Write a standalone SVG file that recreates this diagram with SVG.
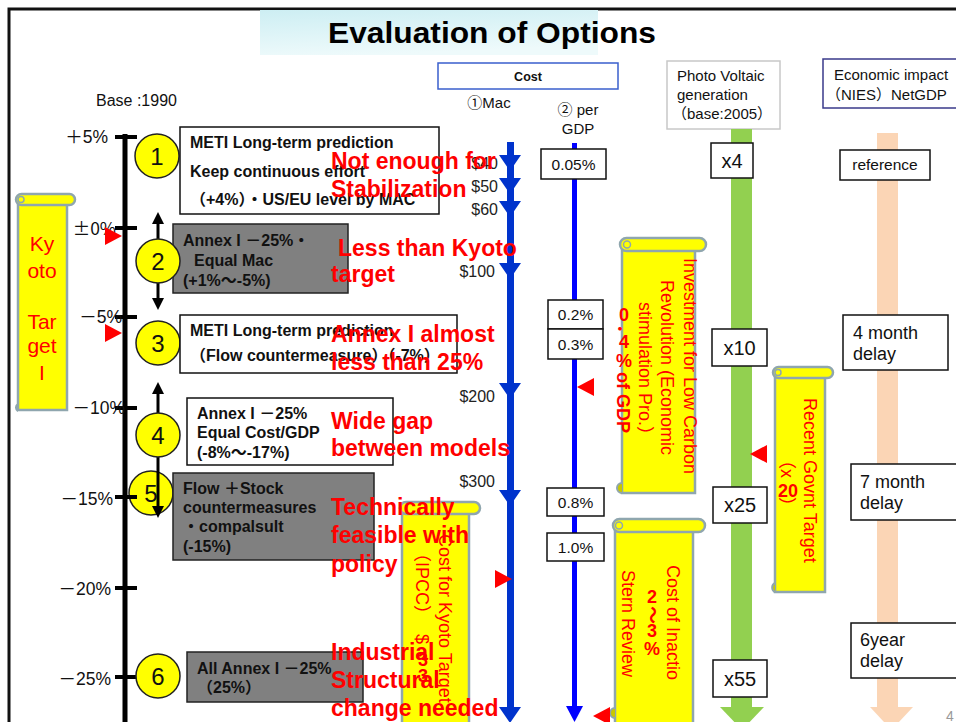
<svg xmlns="http://www.w3.org/2000/svg" width="956" height="722" viewBox="0 0 956 722">
<defs>
<linearGradient id="tg" x1="0" y1="0" x2="0.3" y2="1">
<stop offset="0" stop-color="#cdeef3"/>
<stop offset="1" stop-color="#eefafb"/>
</linearGradient>
<marker id="ah" viewBox="0 0 12 12" refX="2" refY="6" markerWidth="12" markerHeight="12" markerUnits="userSpaceOnUse" orient="auto-start-reverse">
<path d="M0,0 L12,6 L0,12 z" fill="#000"/>
</marker>
<path id="mt" d="M-11,0 L11,0 L0,16 Z" fill="#0033cc"/>
<path id="rtR" d="M0,-9 L17,0 L0,9 Z" fill="#ff0000"/>
<path id="rtL" d="M0,-9 L-17,0 L0,9 Z" fill="#ff0000"/>
</defs>
<style>
text{font-family:"Liberation Sans","Noto Sans CJK JP",sans-serif}
.nb{font-weight:bold;font-size:16px;fill:#111}
.rd{font-weight:bold;font-size:23px;fill:#ff0000}
.ax{font-size:17.5px;fill:#111;text-anchor:end}
.dl{font-size:16px;fill:#222;text-anchor:end}
.hd{font-size:15px;fill:#111}
.vb{fill:#fff;stroke:#111;stroke-width:1.5}
.vt{font-size:15.5px;fill:#111;text-anchor:middle}
.vx{font-size:20px;fill:#111;text-anchor:middle}
.dt{font-size:18px;fill:#111}
.cir{fill:#ffff00;stroke:#222;stroke-width:1.5}
.cn{font-size:24px;fill:#111;text-anchor:middle}
.wb{fill:#fff;stroke:#111;stroke-width:1.5}
.gb{fill:#808080;stroke:#222;stroke-width:1.5}
.sc{fill:#ffff00;stroke:#8fa6ae;stroke-width:2.5}
.st{font-size:18px;fill:#ff0000}
.sb{font-size:18px;font-weight:bold;fill:#ff0000;text-anchor:middle}
</style>
<rect width="956" height="722" fill="#fff"/>
<path d="M9,722 L9,9 L956,9" fill="none" stroke="#111" stroke-width="3"/>
<rect x="260" y="10" width="338" height="45" fill="url(#tg)"/>
<text x="328" y="43" font-size="30" font-weight="bold" fill="#000" textLength="328" lengthAdjust="spacingAndGlyphs">Evaluation of Options</text>
<text x="96" y="106" font-size="16" fill="#111">Base :1990</text>

<g id="hdr-cost">
<rect x="438" y="63" width="180" height="26" fill="#fff" stroke="#3a5fcd" stroke-width="1.5"/>
<text x="528" y="81" font-size="12.5" font-weight="bold" text-anchor="middle" fill="#111">Cost</text>
<text x="489" y="108" class="hd" text-anchor="middle">①Mac</text>
<text x="578" y="115" class="hd" text-anchor="middle">② per</text>
<text x="578" y="134" class="hd" text-anchor="middle">GDP</text>
</g>
<g id="hdr-pv">
<rect x="667" y="61" width="113" height="68" fill="#fff" stroke="#c8c8c8" stroke-width="1.5"/>
<text x="677" y="81" class="hd">Photo Voltaic</text>
<text x="677" y="100" class="hd">generation</text>
<text x="672" y="119" class="hd">（base:2005）</text>
</g>
<g id="hdr-eco">
<rect x="823" y="59" width="140" height="49" fill="#fff" stroke="#3a3a8a" stroke-width="1.5"/>
<text x="834" y="80" class="hd">Economic impact</text>
<text x="826" y="100" class="hd">（NIES）NetGDP</text>
</g>

<g id="kyoto-scroll">
<rect x="18" y="199" width="49" height="211" class="sc"/>
<rect x="16" y="194" width="59" height="11" rx="5.5" class="sc"/>
<circle cx="21" cy="199.5" r="3" fill="none" stroke="#8fa6ae" stroke-width="1.5"/>
<path d="M18,404 a4,4 0 0,0 0,7" fill="none" stroke="#8fa6ae" stroke-width="2"/>
<text x="42" y="251" font-size="21" fill="#ff0000" text-anchor="middle">Ky</text>
<text x="42" y="278" font-size="21" fill="#ff0000" text-anchor="middle">oto</text>
<text x="42" y="329" font-size="21" fill="#ff0000" text-anchor="middle">Tar</text>
<text x="42" y="353" font-size="21" fill="#ff0000" text-anchor="middle">get</text>
<text x="42" y="380" font-size="21" fill="#ff0000" text-anchor="middle">I</text>
</g>

<g id="n5">
<circle cx="151" cy="493" r="22" class="cir"/>
<text x="151" y="502" class="cn">5</text>
</g>

<g id="connectors">
<rect x="731" y="129" width="21" height="579" fill="#92d050"/>
<polygon points="720,707 764,707 742,730" fill="#92d050"/>
<rect x="877" y="133" width="21" height="575" fill="#fbd5b5"/>
<polygon points="870,707 913,707 891.5,730" fill="#fbd5b5"/>
<rect x="507" y="142" width="7" height="570" fill="#0033cc"/>
<use href="#mt" x="510" y="155"/>
<use href="#mt" x="510" y="178"/>
<use href="#mt" x="510" y="201"/>
<use href="#mt" x="510" y="263"/>
<use href="#mt" x="510" y="383"/>
<use href="#mt" x="510" y="490"/>
<use href="#mt" x="510" y="707"/>
<rect x="572" y="143" width="5" height="570" fill="#0000ff"/>
<polygon points="566,706 583,706 574.5,722" fill="#0000ff"/>
<line x1="125" y1="134" x2="125" y2="722" stroke="#000" stroke-width="5"/>
<g stroke="#000" stroke-width="4">
<line x1="115" y1="137" x2="137" y2="137"/>
<line x1="115" y1="228" x2="137" y2="228"/>
<line x1="115" y1="317" x2="137" y2="317"/>
<line x1="115" y1="408" x2="137" y2="408"/>
<line x1="115" y1="497" x2="137" y2="497"/>
<line x1="115" y1="588" x2="137" y2="588"/>
<line x1="115" y1="677" x2="137" y2="677"/>
</g>
<line x1="158" y1="222" x2="158" y2="300" stroke="#000" stroke-width="3" marker-start="url(#ah)" marker-end="url(#ah)"/>
<line x1="158" y1="392" x2="158" y2="508" stroke="#000" stroke-width="3" marker-start="url(#ah)" marker-end="url(#ah)"/>
</g>

<g id="axis-labels">
<text x="108" y="143" class="ax">＋5%</text>
<text x="116" y="235" class="ax" style="font-family:'Noto Sans CJK JP','Liberation Sans',sans-serif">±0%</text>
<text x="122" y="323" class="ax">－5%</text>
<text x="125" y="414" class="ax">－10%</text>
<text x="113" y="505" class="ax">－15%</text>
<text x="111" y="595" class="ax">－20%</text>
<text x="111" y="685" class="ax">－25%</text>
</g>

<g id="n1">
<circle cx="157" cy="156" r="22" class="cir"/>
<text x="157" y="165" class="cn">1</text>
<rect x="180" y="127" width="259" height="87" class="wb"/>
<text x="190" y="148" class="nb">METI Long-term prediction</text>
<text x="190" y="177" class="nb">Keep continuous effort</text>
<text x="190" y="205" class="nb">（+4%）・US/EU level by MAC</text>
</g>
<g id="n2">
<rect x="173" y="224" width="175" height="69" class="gb"/>
<circle cx="158" cy="261" r="22" class="cir"/>
<text x="158" y="270" class="cn">2</text>
<text x="183" y="246" class="nb">Annex I －25%・</text>
<text x="194" y="266" class="nb">Equal Mac</text>
<text x="183" y="286" class="nb">(+1%～-5%)</text>
</g>
<g id="n3">
<circle cx="158" cy="343" r="22" class="cir"/>
<text x="158" y="352" class="cn">3</text>
<rect x="180" y="315" width="277" height="58" class="wb"/>
<text x="190" y="336" class="nb">METI Long-term prediction</text>
<text x="190" y="361" class="nb">（Flow countermeasure）（-7%）</text>
</g>
<g id="n4">
<circle cx="158" cy="435" r="22" class="cir"/>
<text x="158" y="444" class="cn">4</text>
<rect x="187" y="398" width="206" height="67" class="wb"/>
<text x="197" y="419" class="nb">Annex I －25%</text>
<text x="197" y="438" class="nb">Equal Cost/GDP</text>
<text x="197" y="458" class="nb">(-8%～-17%)</text>
</g>
<g id="n5-box">
<rect x="173" y="473" width="201" height="87" class="gb"/>
<text x="183" y="494" class="nb">Flow ＋Stock</text>
<text x="183" y="513" class="nb">countermeasures</text>
<text x="183" y="532" class="nb">・compalsult</text>
<text x="183" y="552" class="nb">(-15%)</text>
</g>
<g id="n6">
<circle cx="158" cy="676" r="22" class="cir"/>
<text x="158" y="685" class="cn">6</text>
<rect x="187" y="652" width="176" height="50" class="gb"/>
<text x="197" y="674" class="nb">All Annex I －25%</text>
<text x="197" y="693" class="nb">（25%）</text>
</g>

<g id="mac-labels">
<text x="498" y="169" class="dl">$40</text>
<text x="498" y="192" class="dl">$50</text>
<text x="498" y="215" class="dl">$60</text>
<text x="495" y="277" class="dl">$100</text>
<text x="495" y="402" class="dl">$200</text>
<text x="495" y="487" class="dl">$300</text>
</g>

<g id="gdp-values">
<rect x="541" y="149" width="65" height="30" class="vb"/><text x="573.5" y="170" class="vt">0.05%</text>
<rect x="548" y="300" width="55" height="29" class="vb"/><text x="575.5" y="320" class="vt">0.2%</text>
<rect x="548" y="329" width="55" height="30" class="vb"/><text x="575.5" y="350" class="vt">0.3%</text>
<rect x="547" y="488" width="57" height="28" class="vb"/><text x="575.5" y="508" class="vt">0.8%</text>
<rect x="547" y="533" width="57" height="28" class="vb"/><text x="575.5" y="553" class="vt">1.0%</text>
</g>
<g id="pv-values">
<rect x="711" y="143" width="42" height="35" class="vb"/><text x="732" y="168" class="vx">x4</text>
<rect x="712" y="329" width="55" height="37" class="vb"/><text x="739.5" y="355" class="vx">x10</text>
<rect x="713" y="487" width="54" height="36" class="vb"/><text x="740" y="512" class="vx">x25</text>
<rect x="713" y="660" width="54" height="37" class="vb"/><text x="740" y="686" class="vx">x55</text>
</g>
<g id="eco-values">
<rect x="840" y="150" width="90" height="30" class="vb"/><text x="885" y="170" class="vt">reference</text>
<rect x="843" y="315" width="105" height="55" class="vb"/>
<text x="853" y="339" class="dt">4 month</text><text x="853" y="360" class="dt">delay</text>
<rect x="851" y="464" width="106" height="56" class="vb"/>
<text x="860" y="488" class="dt">7 month</text><text x="860" y="509" class="dt">delay</text>
<rect x="851" y="623" width="106" height="55" class="vb"/>
<text x="860" y="646" class="dt">6year</text><text x="860" y="667" class="dt">delay</text>
</g>
<text x="946" y="721" font-size="14" fill="#999">4</text>

<g id="invest-scroll">
<rect x="622" y="244" width="73" height="249" class="sc"/>
<rect x="620" y="238" width="86" height="13" rx="6.5" class="sc"/>
<circle cx="627" cy="244.5" r="3.5" fill="none" stroke="#8fa6ae" stroke-width="1.5"/>
<path d="M622,483 a5,5 0 0,0 0,10" fill="#c8c800" stroke="#8fa6ae" stroke-width="2"/>
<text x="684" y="258" class="st" transform="rotate(90 684 258)">Investment for Low Carbon</text>
<text x="661" y="280" class="st" transform="rotate(90 661 280)">Revolution (Economic</text>
<text x="639" y="302" class="st" transform="rotate(90 639 302)">stimulation Pro.）</text>
<text x="624" y="321" class="sb">0</text>
<text x="624" y="331" class="sb">．</text>
<text x="624" y="348" class="sb">4</text>
<text x="624" y="367" class="sb">%</text>
<text x="617" y="372" class="st" font-weight="bold" transform="rotate(90 617 372)">of GDP</text>
</g>

<g id="govt-scroll">
<rect x="775" y="372" width="50" height="220" class="sc"/>
<rect x="773" y="367" width="60" height="11" rx="5.5" class="sc"/>
<circle cx="778" cy="372.5" r="3" fill="none" stroke="#8fa6ae" stroke-width="1.5"/>
<path d="M775,583 a5,5 0 0,0 0,9" fill="#c8c800" stroke="#8fa6ae" stroke-width="2"/>
<text x="804" y="398" class="st" transform="rotate(90 804 398)">Recent Govnt Target</text>
<text x="781" y="451" class="st" transform="rotate(90 781 451)">（x</text>
<text x="788" y="497" class="sb" font-size="17">20</text>
<text x="781" y="497" class="st" transform="rotate(90 781 497)">）</text>
</g>

<g id="ipcc-scroll">
<rect x="402" y="508" width="67" height="220" class="sc"/>
<rect x="400" y="502" width="80" height="12" rx="6" class="sc"/>
<text x="439" y="534" class="st" font-size="19" transform="rotate(90 439 534)">Cost for Kyoto Target</text>
<text x="416" y="544" class="st" transform="rotate(90 416 544)">（IPCC）</text>
<text x="416" y="634" class="st" transform="rotate(90 416 634)">$</text>
<text x="423" y="666" class="sb">3</text>
<text x="423" y="682" class="sb">3</text>
</g>

<g id="inaction-scroll">
<rect x="615" y="525" width="78" height="205" class="sc"/>
<rect x="613" y="519" width="92" height="13" rx="6.5" class="sc"/>
<circle cx="619" cy="525.5" r="3.5" fill="none" stroke="#8fa6ae" stroke-width="1.5"/>
<path d="M615,708 a5,5 0 0,0 0,10" fill="#c8c800" stroke="#8fa6ae" stroke-width="2"/>
<text x="667" y="565" class="st" transform="rotate(90 667 565)">Cost of Inactio</text>
<text x="652" y="603" class="sb">2</text>
<text x="646" y="606" class="st" font-weight="bold" transform="rotate(90 646 606)">～</text>
<text x="652" y="637" class="sb">3</text>
<text x="652" y="655" class="sb">%</text>
<text x="622" y="570" class="st" transform="rotate(90 622 570)">Stern Review</text>
</g>

<g id="markers">
<use href="#rtR" x="105" y="236"/>
<use href="#rtR" x="105" y="333"/>
<use href="#rtL" x="594" y="387"/>
<use href="#rtR" x="495" y="579"/>
<use href="#rtL" x="767" y="454"/>
<use href="#rtL" x="610" y="716"/>
</g>

<g id="remarks">
<text x="331" y="169" class="rd">Not enough for</text>
<text x="331" y="197" class="rd">Stabilization</text>
<text x="338" y="256" class="rd">Less than Kyoto</text>
<text x="331" y="282" class="rd">target</text>
<text x="331" y="342" class="rd">Annex I almost</text>
<text x="331" y="370" class="rd">less than 25%</text>
<text x="331" y="429" class="rd">Wide gap</text>
<text x="331" y="456" class="rd">between models</text>
<text x="331" y="515" class="rd">Technically</text>
<text x="331" y="543" class="rd">feasible with</text>
<text x="331" y="572" class="rd">policy</text>
<text x="331" y="660" class="rd">Industrial</text>
<text x="331" y="688" class="rd">Structural</text>
<text x="331" y="716" class="rd">change needed</text>
</g>
</svg>
